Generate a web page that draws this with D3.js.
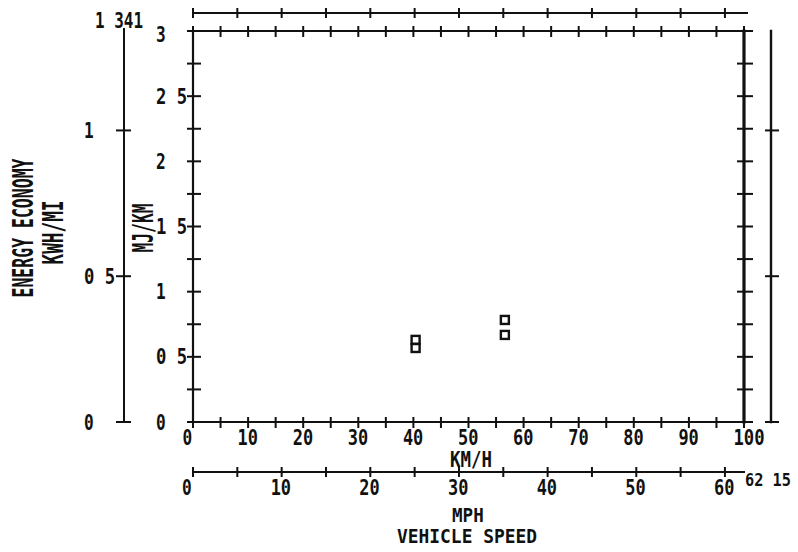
<!DOCTYPE html>
<html><head><meta charset="utf-8">
<script src="https://cdn.jsdelivr.net/npm/d3@7"></script>
<style>html,body{margin:0;padding:0;background:#fff}svg{display:block}</style>
</head><body>
<svg id="c" width="798" height="552"></svg>
<script>
// ---- data ----
const speedKmh = [40.4, 40.4, 56.6, 56.6];
const energyMJkm = [0.63, 0.568, 0.783, 0.668];
const kmhLabels = [0,10,20,30,40,50,60,70,80,90,100];
const kmhMinor = d3.range(0, 100.001, 5);
const mphLabels = [0,10,20,30,40,50,60];
const mphMinor = d3.range(0, 62, 5);
const mphMax = 62.15;
const mphMaxLabel = "62 15";
const mjValues = [0,0.5,1,1.5,2,2.5,3];
const mjLabels = ["0","0 5","1","1 5","2","2 5","3"];
const mjMinor = d3.range(0, 3.001, 0.25);
const kwhValues = [0,0.5,1];
const kwhLabels = ["0","0 5","1"];
const kwhMax = 1.341;
const kwhMaxLabel = "1 341";

// ---- layout ----
const L = 193, R = 744, T = 31, B = 422;
const x = d3.scaleLinear().domain([0,100]).range([L,R]);
const mph = d3.scaleLinear().domain([0,mphMax]).range([L,R]);
const y = d3.scaleLinear().domain([0,3]).range([B,T]);
const kwh = d3.scaleLinear().domain([0,kwhMax]).range([B,T]);

const svg = d3.select("#c");
const FONT = "'DejaVu Sans Mono', 'Liberation Mono', monospace";

function txt(s, px, py, size, pitch, rot) {
  const t = svg.append("text")
    .attr("font-family", FONT).attr("font-weight", "bold")
    .attr("font-size", size).attr("fill", "#111")
    .attr("textLength", s.length * pitch - 1)
    .attr("lengthAdjust", "spacingAndGlyphs")
    .text(s);
  if (rot) {
    t.attr("text-anchor", "middle")
     .attr("transform", `translate(${px},${py}) rotate(-90)`)
     .attr("x", 0).attr("y", size * 0.729 / 2);
  } else {
    t.attr("x", px).attr("y", py);
  }
  return t;
}
function line(x1,y1,x2,y2,w){
  svg.append("line").attr("x1",x1).attr("y1",y1).attr("x2",x2).attr("y2",y2)
    .attr("stroke","#111").attr("stroke-width",w||2).attr("stroke-linecap","square");
}

// ---- main frame ----
line(L,T,L,B,2.2);
line(L,B,R,B,2.2);
line(L,T,R,T,2);
line(R,T,R,B,3.2);

kmhMinor.forEach(v => { line(x(v),B-4,x(v),B+5,2); line(x(v),T-4,x(v),T+5,2); });
mjMinor.forEach(v => { line(L-5,y(v),L+7,y(v),2); line(R-6,y(v),R+8,y(v),2); });

mjValues.forEach((v,i) => {
  const cy = Math.max(y(v), 34);
  txt(mjLabels[i], 156, cy + 7.5, 20.5, 10.7);
});
kmhLabels.forEach(v => txt(String(v), x(v) - 10.5, 444.5, 20.5, 10.7));
txt("KM/H", 450, 466.5, 20.5, 10.75);

// ---- MPH bottom axis ----
const mphY = 472;
line(L, mphY, R, mphY, 2);
mphMinor.forEach(v => line(mph(v), mphY-4, mph(v), mphY+4, 2));
mphLabels.forEach(v => txt(String(v), mph(v) - 11, 494.5, 20.5, 10.7));
txt(mphMaxLabel, 745, 485.5, 18, 9.4);
txt("MPH", 452, 521.5, 19, 10.9);
txt("VEHICLE SPEED", 397, 543, 19, 10.85);

// ---- MPH top axis ----
const topY = 13;
line(L, topY, R + 3, topY, 2);
mphMinor.forEach(v => line(mph(v), topY-4, mph(v), topY+4, 2));

// ---- KWH/MI left axis ----
const kx = 124;
line(kx, 29, kx, B, 2);
kwhValues.forEach((v,i) => {
  line(kx-7, kwh(v), kx+6, kwh(v), 2);
  txt(kwhLabels[i], 84, kwh(v) + 7.5, 20.5, 10.7);
});
txt(kwhMaxLabel, 95, 28, 20.5, 9.8);

// ---- right outer axis ----
const rx = 771;
line(rx, T, rx, B, 2.4);
kwhValues.forEach(v => line(rx-5, kwh(v), rx+7, kwh(v), 2));

// ---- axis titles ----
txt("ENERGY ECONOMY", 23, 228, 27.5, 10, true);
txt("KWH/MI", 53, 232.5, 27.5, 10.8, true);
txt("MJ/KM", 143, 228, 27.5, 10, true);

// ---- data points ----
const pts = speedKmh.map((s,i) => ({s, e: energyMJkm[i]}));
svg.append("g").selectAll("rect").data(pts).join("rect")
  .attr("x", d => x(d.s) - 4).attr("y", d => y(d.e) - 4)
  .attr("width", 8).attr("height", 8)
  .attr("fill", "none").attr("stroke", "#111").attr("stroke-width", 2.4);
</script>
</body></html>
